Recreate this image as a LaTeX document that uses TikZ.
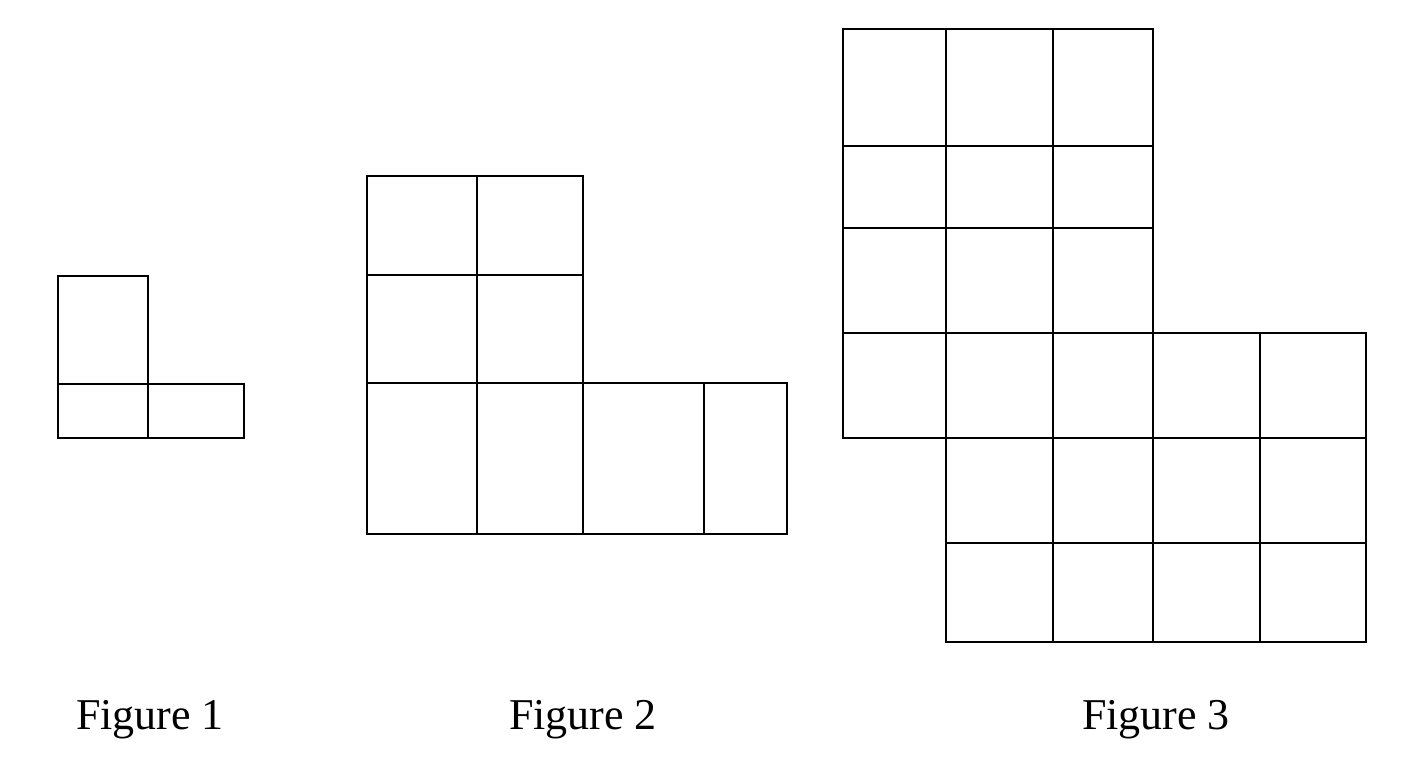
\documentclass[tikz,border=0pt]{standalone}
\usepackage{fontspec}
\setmainfont{Liberation Serif}
\begin{document}
\begin{tikzpicture}[x=1pt,y=-1pt,grid/.style={line width=1.5pt,black},lab/.style={font=\fontsize{44}{48}\selectfont}]
\useasboundingbox (0,0) rectangle (1408,768);
% Figure 1
\draw[grid] (58,276) rectangle (148,384);
\draw[grid] (58,384) rectangle (148,438);
\draw[grid] (148,384) rectangle (244,438);
% Figure 2
\foreach \a/\b in {367/477,477/583}{
  \draw[grid] (\a,176) rectangle (\b,275);
  \draw[grid] (\a,275) rectangle (\b,383);}
\foreach \a/\b in {367/477,477/583,583/704,704/787}
  \draw[grid] (\a,383) rectangle (\b,534);
% Figure 3
\foreach \a/\b in {843/946,946/1053,1053/1153}
  \foreach \c/\d in {29/146,146/228,228/333}
    \draw[grid] (\a,\c) rectangle (\b,\d);
\foreach \a/\b in {843/946,946/1053,1053/1153,1153/1260,1260/1366}
  \draw[grid] (\a,333) rectangle (\b,438);
\foreach \a/\b in {946/1053,1053/1153,1153/1260,1260/1366}
  \foreach \c/\d in {438/543,543/642}
    \draw[grid] (\a,\c) rectangle (\b,\d);
\node[lab] (l1) at (150,720) {Figure 1};
\node[lab] (l2) at (583,720) {Figure 2};
\node[lab] (l3) at (1156,720) {Figure 3};
\end{tikzpicture}
\end{document}
